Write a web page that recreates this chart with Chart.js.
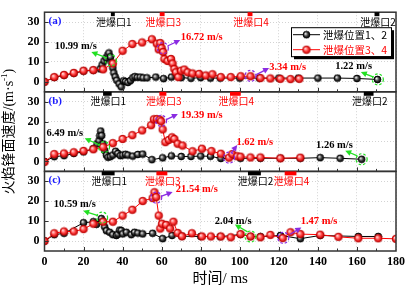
<!DOCTYPE html>
<html>
<head>
<meta charset="utf-8">
<script src="https://cdn.jsdelivr.net/npm/chart.js@4.4.0/dist/chart.umd.min.js"></script>
<style>
  html, body { margin: 0; padding: 0; background: #fff; }
</style>
</head>
<body>
<canvas id="chart" width="409" height="289"></canvas>
<script>
// axes
const xTickValues = [0, 20, 40, 60, 80, 100, 120, 140, 160, 180];
const yTickValues = [0, 10, 20, 30];

// (a) 泄爆位置1、2 / 3、4
const tA_black = [0, 5, 10, 15, 20, 25, 28.5, 29.5, 30.5, 31.5, 32.5, 33, 33.8, 34.5, 35, 35.5, 36.2, 37, 38.2, 39.3, 40.5, 41.5, 42.7, 44, 45.2, 46.3, 47.5, 49, 50.5, 52.5, 57, 61, 65, 70, 75, 80, 85, 90, 100, 110, 120, 130, 140, 150, 160, 170.5];
const vA_black = [0, 2.2, 3.3, 4.3, 5.4, 5.8, 6.5, 8.5, 10.5, 12, 13.5, 14.5, 12.5, 9.5, 7, 4.5, 2.5, 0.8, -1, -2.5, 0.5, 0.2, -0.3, 0.6, 2, 2.6, 2.3, 2.4, 2, 2, 2.4, 1.6, 2.4, 2.1, 1.8, 2.1, 1.9, 1.9, 1.9, 1.9, 1.9, 1.9, 1.9, 1.9, 1.7, 1.2];
const tA_red = [0, 5, 10, 15, 20, 25, 30, 35, 40, 45, 50, 55, 57.5, 58.5, 59.3, 60, 60.8, 61.4, 63, 64.8, 65.6, 66.5, 67.3, 68.5, 69.9, 71.6, 73.3, 75.8, 79.2, 82.6, 86, 90.3, 95.4, 100.5, 105.5, 110.6, 115.7, 120.8, 126, 130.5];
const vA_red = [0, 2.4, 3.5, 4.5, 5.6, 5.9, 6.3, 9.2, 15.6, 19, 19.8, 21.4, 19.2, 16.3, 19.5, 17, 15, 11.5, 10.5, 11.5, 9.2, 6.5, 4.8, 2.4, 5.6, 6.2, 4.8, 4.2, 4, 3.2, 3.8, 2.4, 2.4, 2.8, 2.8, 1.9, 1.7, 1.5, 1.4, 1.5];

// (b)
const tB_black = [0, 5, 10, 15, 20, 25, 26.9, 27.9, 28.3, 28.8, 29.3, 30, 30.8, 31.7, 32.5, 33.7, 35, 36.4, 37.6, 38.8, 40.1, 41.5, 42.7, 45.2, 47.8, 50.3, 55, 60.5, 65, 70, 75, 80, 85, 90.3, 100.4, 110.6, 120.8, 131, 141.2, 151.4, 162.4];
const vB_black = [0, 2.4, 2.9, 4, 4.8, 6.4, 8.8, 10.4, 12.9, 15.3, 13, 8.8, 5.5, 3.2, 2.1, 2.4, 3.2, 5.1, 4, 2.9, 3.2, 3.6, 3.2, 2.7, 3.5, 3.7, 0.9, 1.8, 2.8, 2.5, 2.5, 2.7, 2.6, 1.5, 1.6, 1.6, 1.6, 1.6, 1.9, 1.6, 1.1];
const tB_red = [0, 5, 10, 15, 20, 25, 30, 35, 40, 45, 50, 54.6, 56, 57.5, 59, 59.7, 60.5, 61.9, 63.6, 65.3, 66.5, 68.2, 70.7, 75.8, 80.6, 85.5, 90.3, 94.5, 96.2, 98.7, 100.4, 105.5, 110.6, 120.8, 131];
const vB_red = [-0.3, 3.7, 4, 4.6, 5.3, 6.1, 7.2, 9.2, 11.3, 13.2, 15.6, 18.2, 21.2, 21.3, 21, 20.2, 16.1, 9.7, 10.8, 12.1, 11.3, 8.9, 8, 5.1, 6.4, 5.2, 3.9, 1.9, 3.7, 2.6, 2.4, 2, 2, 1.6, 1.9];

// (c)
const tC_black = [0, 5, 10, 20, 25, 26.6, 29.1, 30, 30.8, 31.7, 33.4, 35, 36.8, 37.6, 38.5, 39.3, 40.1, 41.9, 44.4, 46.1, 47.8, 50.3, 55.4, 60.5, 65.3, 70.4, 80, 90, 100.4, 105.5, 110.6, 120.8, 131, 141.2, 160.7, 170.9];
const vC_black = [0, 3.2, 3.9, 9.2, 9.7, 8.4, 11.3, 9.7, 7.1, 5.2, 4.4, 3.2, 2.8, 3.5, 5.5, 5.3, 3.6, 4.4, 3.2, 4.4, 4, 3.6, 3.9, 1.2, 2.8, 2.4, 2.3, 2.2, 3.3, 2.3, 2.2, 2.8, 1.2, 2.8, 2.3, 2.3];
const tC_red = [0, 5, 10, 15, 20, 25, 30, 35, 40, 45, 50.3, 55.4, 56.3, 57.2, 58.5, 59.3, 60.2, 62.3, 64.3, 66, 68.2, 70.4, 75.5, 80.6, 85.2, 90.3, 95.4, 100.4, 105.5, 110.6, 115.7, 122, 126, 131, 141.2, 150.5, 160.7, 170.9, 180];
const vC_red = [0, 3.9, 4.8, 4.8, 6, 8.7, 9.7, 9.7, 12.8, 15.7, 20.1, 21.6, 24.5, 22.1, 12.8, 6.3, 8.7, 8.1, 6.3, 9.7, 4.1, 2.4, 3.9, 2.3, 2.3, 2.3, 1.9, 3.5, 2.3, 1.9, 3.1, 1.5, 4.4, 3.5, 3.2, 2.1, 1.4, 1.4, 1.1];

// 泄爆口 positions (ms): name, colour key, start, end
const ventsA = [['泄爆口1', 'k', 34, 36], ['泄爆口3', 'r', 59, 61.5], ['泄爆口4', 'r', 104, 106.5], ['泄爆口2', 'k', 169, 171.5]];
const ventsB = [['泄爆口1', 'k', 30, 34.4], ['泄爆口3', 'r', 58.8, 62.4], ['泄爆口4', 'r', 95, 100.5], ['泄爆口2', 'k', 163.5, 168.5]];
const ventsC = [['泄爆口1', 'k', 29.3, 35.9], ['泄爆口3', 'r', 57.3, 62.9], ['泄爆口2', 'k', 104.2, 110.8], ['泄爆口4', 'r', 123, 129]];

// speed notes: text, colour key, text pos, circled point, arrow tail / head (all in ms, m/s)
const notesA = [
  ['10.99 m/s', 'k', [16, 18], [34, 10.8], [31.5, 12.2], [24, 15]],
  ['16.72 m/s', 'r', [80.5, 22.5], [60.6, 16.9], [63, 18], [69.5, 21]],
  ['3.34 m/s', 'r', [124.5, 7.4], [105.5, 3], [108.5, 3.6], [115, 7]],
  ['1.22 m/s', 'k', [158.3, 7.6], [170.7, 1.2], [168.3, 2.5], [162, 4.9]]
];
const notesB = [
  ['6.49 m/s', 'k', [10.4, 14], [30.5, 7.2], [28.5, 8.2], [20.6, 11.6]],
  ['19.39 m/s', 'r', [80.5, 23.3], [59.7, 20.4], [62.3, 21], [68.3, 23.8]],
  ['1.62 m/s', 'r', [107.7, 9.7], [94.5, 1.9], [95.6, 4.2], [98.7, 8.3]],
  ['1.26 m/s', 'k', [148.5, 8], [162.4, 1.1], [160.2, 2.8], [154, 5.4]]
];
const notesC = [
  ['10.59 m/s', 'k', [15.5, 18.4], [29.5, 11.8], [27.4, 12.8], [19.8, 15.2]],
  ['21.54 m/s', 'r', [78, 26], [57.2, 21.8], [59.7, 22.5], [65.6, 24.6]],
  ['2.04 m/s', 'k', [96.6, 10], [105.5, 2.3], [104, 4.6], [97.5, 8.3]],
  ['1.47 m/s', 'r', [140.6, 10], [122.3, 1.6], [125.8, 3.4], [131.5, 6.8]]
];

const panelNames = ['(a)', '(b)', '(c)'];
const legendLabels = ['泄爆位置1、2', '泄爆位置3、4'];

const serif = "'Liberation Serif', 'Noto Sans CJK SC', serif";
const cjk = "'Noto Sans CJK SC', sans-serif";
const RED = '#ff0000';
const BLACK = '#000000';
const GREEN = '#22e022';
const PURPLE = '#8a2be2';
const yIds = ['yA', 'yB', 'yC'];
const ventSets = [ventsA, ventsB, ventsC];
const noteSets = [notesA, notesB, notesC];

// little shaded balls like the Origin markers
function ball(r, light, mid, dark) {
  const c = document.createElement('canvas');
  const d = Math.ceil(r * 2 + 2);
  c.width = c.height = d;
  const g = c.getContext('2d');
  const grad = g.createRadialGradient(d / 2 - r * 0.35, d / 2 - r * 0.35, 0.3, d / 2, d / 2, r);
  grad.addColorStop(0, light);
  grad.addColorStop(0.55, mid);
  grad.addColorStop(1, dark);
  g.fillStyle = grad;
  g.beginPath();
  g.arc(d / 2, d / 2, r, 0, Math.PI * 2);
  g.fill();
  g.lineWidth = 0.9;
  g.strokeStyle = dark;
  g.stroke();
  return c;
}
const redBall = ball(3.8, '#ffe0e0', '#ff4040', '#c00000');
const blackBall = ball(3.4, '#f0f0f0', '#404040', '#000000');

function series(t, v, kind, axis) {
  return {
    data: t.map((x, i) => ({ x: x, y: v[i] })),
    yAxisID: axis,
    borderColor: kind === 'r' ? RED : BLACK,
    backgroundColor: kind === 'r' ? RED : BLACK,
    borderWidth: 1,
    pointStyle: kind === 'r' ? redBall : blackBall,
    pointRadius: 4,
    tension: 0,
    fill: false
  };
}

function yScale(weight) {
  return {
    type: 'linear',
    position: 'left',
    stack: 'panels',
    stackWeight: 1,
    weight: weight,
    min: -5,
    max: 35,
    afterBuildTicks: s => { s.ticks = yTickValues.map(v => ({ value: v })); },
    afterFit: s => { s.width = 20.5; },
    ticks: { color: '#000', padding: 5, autoSkip: false, font: { family: serif, size: 12, weight: 'bold' } },
    grid: { color: '#c8c8c8', lineWidth: 0.8, drawTicks: false },
    border: { display: false, dash: [1, 2] }
  };
}

function arrow(ctx, x0, y0, x1, y1, color) {
  const a = Math.atan2(y1 - y0, x1 - x0);
  ctx.strokeStyle = color;
  ctx.fillStyle = color;
  ctx.lineWidth = 1.3;
  ctx.setLineDash([]);
  ctx.beginPath();
  ctx.moveTo(x0, y0);
  ctx.lineTo(x1 - 4 * Math.cos(a), y1 - 4 * Math.sin(a));
  ctx.stroke();
  ctx.beginPath();
  ctx.moveTo(x1, y1);
  ctx.lineTo(x1 - 6 * Math.cos(a) + 3 * Math.sin(a), y1 - 6 * Math.sin(a) - 3 * Math.cos(a));
  ctx.lineTo(x1 - 6 * Math.cos(a) - 3 * Math.sin(a), y1 - 6 * Math.sin(a) + 3 * Math.cos(a));
  ctx.closePath();
  ctx.fill();
}

const decor = {
  id: 'decor',
  afterDatasetsDraw(chart) {
    const ctx = chart.ctx;
    const x = chart.scales.x;
    ctx.save();
    noteSets.forEach((notes, i) => {
      const y = chart.scales[yIds[i]];
      notes.forEach(n => {
        const mark = n[1] === 'r' ? PURPLE : GREEN;
        // dashed circle
        ctx.strokeStyle = mark;
        ctx.lineWidth = 1.2;
        ctx.setLineDash([2.5, 2]);
        ctx.beginPath();
        ctx.arc(x.getPixelForValue(n[3][0]), y.getPixelForValue(n[3][1]), 5.5, 0, Math.PI * 2);
        ctx.stroke();
        arrow(ctx, x.getPixelForValue(n[4][0]), y.getPixelForValue(n[4][1]),
          x.getPixelForValue(n[5][0]), y.getPixelForValue(n[5][1]), mark);
        ctx.fillStyle = n[1] === 'r' ? RED : BLACK;
        ctx.font = 'bold 10.5px ' + serif;
        ctx.textAlign = 'center';
        ctx.textBaseline = 'middle';
        ctx.fillText(n[0], x.getPixelForValue(n[2][0]), y.getPixelForValue(n[2][1]));
      });
    });
    ctx.restore();
  },
  afterDraw(chart) {
    const ctx = chart.ctx;
    const area = chart.chartArea;
    const x = chart.scales.x;
    ctx.save();
    yIds.forEach((id, i) => {
      const y = chart.scales[id];
      // panel frame
      ctx.strokeStyle = '#333';
      ctx.lineWidth = 1.5;
      ctx.setLineDash([]);
      ctx.strokeRect(area.left, y.top, area.right - area.left, y.bottom - y.top);
      // inward ticks
      ctx.lineWidth = 1;
      ctx.beginPath();
      yTickValues.forEach(v => {
        const py = Math.round(y.getPixelForValue(v)) + 0.5;
        ctx.moveTo(area.left, py);
        ctx.lineTo(area.left + 4, py);
      });
      for (let t = 10; t < 180; t += 10) {
        const px = Math.round(x.getPixelForValue(t)) + 0.5;
        const len = t % 20 === 0 ? 4 : 2.5;
        ctx.moveTo(px, y.bottom);
        ctx.lineTo(px, y.bottom - len);
      }
      ctx.stroke();
      // panel letter
      ctx.fillStyle = '#1a1aff';
      ctx.font = 'bold 11px ' + serif;
      ctx.textAlign = 'left';
      ctx.textBaseline = 'middle';
      ctx.fillText(panelNames[i], area.left + 4, y.top + 9);
      // vents
      ventSets[i].forEach(v => {
        const c = v[1] === 'r' ? RED : BLACK;
        const x0 = x.getPixelForValue(v[2]);
        const x1 = x.getPixelForValue(v[3]);
        ctx.fillStyle = c;
        ctx.fillRect(x0, y.getPixelForValue(35), x1 - x0, y.getPixelForValue(33) - y.getPixelForValue(35));
        ctx.font = '10px ' + cjk;
        ctx.textAlign = 'center';
        ctx.fillText(v[0], (x0 + x1) / 2 + 1, y.getPixelForValue(30.2));
      });
    });

    // legend inside (a)
    const ya = chart.scales.yA;
    const bx = area.right - 105, by = ya.top + 15, bw = 100, bh = 29;
    ctx.fillStyle = '#000';
    ctx.fillRect(bx + 3, by + 3, bw, bh);
    ctx.fillStyle = '#fff';
    ctx.fillRect(bx, by, bw, bh);
    ctx.strokeStyle = '#000';
    ctx.lineWidth = 1;
    ctx.strokeRect(bx + 0.5, by + 0.5, bw, bh);
    [[BLACK, blackBall], [RED, redBall]].forEach((s, k) => {
      const ry = by + 7.5 + k * 15;
      ctx.strokeStyle = s[0];
      ctx.beginPath();
      ctx.moveTo(bx + 2, ry);
      ctx.lineTo(bx + 29, ry);
      ctx.stroke();
      ctx.drawImage(s[1], bx + 15.5 - s[1].width / 2, ry - s[1].height / 2);
      ctx.fillStyle = s[0];
      ctx.font = '10.5px ' + cjk;
      ctx.textAlign = 'left';
      ctx.textBaseline = 'middle';
      ctx.fillText(legendLabels[k], bx + 32, ry);
    });

    // shared y title
    ctx.translate(9, (area.top + area.bottom) / 2);
    ctx.rotate(-Math.PI / 2);
    ctx.fillStyle = '#000';
    ctx.textBaseline = 'middle';
    const main = '火焰锋面速度/(m·s';
    ctx.font = '14px ' + serif;
    const w1 = ctx.measureText(main).width;
    ctx.font = '9px ' + serif;
    const w2 = ctx.measureText('-1').width;
    ctx.font = '14px ' + serif;
    const w3 = ctx.measureText(')').width;
    let sx = -(w1 + w2 + w3) / 2;
    ctx.textAlign = 'left';
    ctx.fillText(main, sx, 0);
    ctx.font = '9px ' + serif;
    ctx.fillText('-1', sx + w1, -4);
    ctx.font = '14px ' + serif;
    ctx.fillText(')', sx + w1 + w2, 0);
    ctx.restore();
  }
};

new Chart(document.getElementById('chart'), {
  type: 'line',
  data: {
    datasets: [
      series(tA_red, vA_red, 'r', 'yA'),
      series(tA_black, vA_black, 'k', 'yA'),
      series(tB_red, vB_red, 'r', 'yB'),
      series(tB_black, vB_black, 'k', 'yB'),
      series(tC_red, vC_red, 'r', 'yC'),
      series(tC_black, vC_black, 'k', 'yC')
    ]
  },
  options: {
    responsive: false,
    animation: false,
    events: [],
    layout: { padding: { left: 24, right: 11, top: 3, bottom: 0 } },
    plugins: { legend: { display: false }, tooltip: { enabled: false } },
    scales: {
      x: {
        type: 'linear',
        min: 0,
        max: 180,
        afterBuildTicks: s => { s.ticks = xTickValues.map(v => ({ value: v })); },
        afterFit: s => { s.height = 38; },
        ticks: { color: '#000', padding: 4, autoSkip: false, maxRotation: 0, font: { family: serif, size: 12, weight: 'bold' } },
        grid: { color: '#c8c8c8', lineWidth: 0.8, drawTicks: false },
        border: { display: false, dash: [1, 2] },
        title: { display: true, text: '时间/ ms', color: '#000', padding: { top: 0, bottom: 1 }, font: { family: serif, size: 15 } }
      },
      yA: yScale(3),
      yB: yScale(2),
      yC: yScale(1)
    }
  },
  plugins: [decor]
});
</script>
</body>
</html>
